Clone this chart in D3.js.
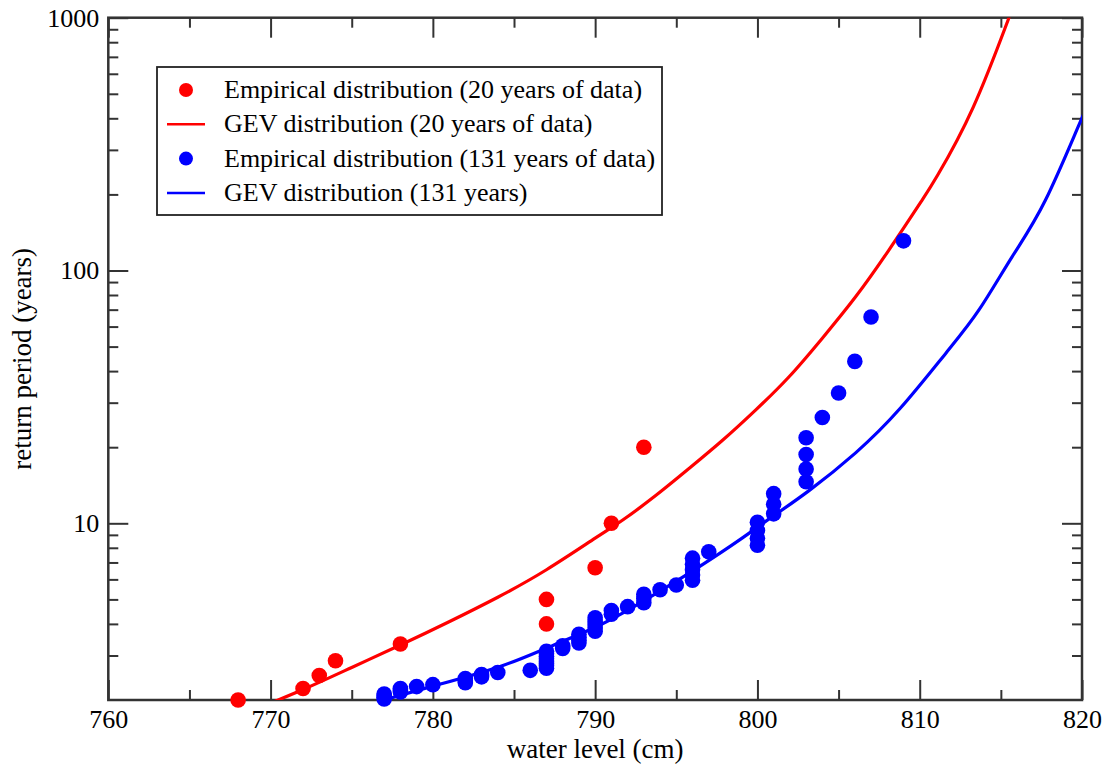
<!DOCTYPE html>
<html>
<head>
    <title></title>
    <script src="https://d3js.org/d3.v7.min.js"></script>
    <style>
        body { margin: 0; background: #fff; }
        svg text { font-family: "Liberation Serif", "DejaVu Serif", serif !important; fill: #000; }
    </style>
</head>
<body>
    <svg id="chart" width="1110" height="769"></svg>

    <script>
    // empirical return periods, 20 years of data
    let red_x = [768, 772, 773, 774, 778, 787, 787, 790, 791, 793];
    let red_y = [2.0, 2.22, 2.5, 2.86, 3.33, 4.0, 5.0, 6.67, 10.0, 20.0];

    // empirical return periods, 131 years of data
    let blue_x = [809, 807, 806, 805, 804,
                  803, 803, 803, 803,
                  801, 801, 801,
                  800, 800, 800, 800,
                  797, 796, 796, 796, 796, 796, 795, 794,
                  793, 793, 793, 792, 791, 791,
                  790, 790, 790, 790, 790,
                  789, 789, 789, 789, 788, 788,
                  787, 787, 787, 787, 787, 787, 787, 787, 786,
                  784, 783, 783, 782, 782, 782, 780, 779,
                  778, 778, 778, 777, 777, 777, 777];
    let blue_y = [131, 65.5, 43.7, 32.75, 26.2,
                  21.8, 18.7, 16.4, 14.6,
                  13.1, 11.9, 10.9,
                  10.1, 9.36, 8.73, 8.19,
                  7.71, 7.28, 6.89, 6.55, 6.24, 5.95, 5.70, 5.46,
                  5.24, 5.04, 4.85, 4.68, 4.52, 4.37,
                  4.23, 4.09, 3.97, 3.85, 3.74,
                  3.64, 3.54, 3.45, 3.36, 3.28, 3.20,
                  3.12, 3.05, 2.98, 2.91, 2.85, 2.79, 2.73, 2.67, 2.62,
                  2.57, 2.52, 2.47, 2.43, 2.38, 2.34, 2.30, 2.26,
                  2.22, 2.18, 2.15, 2.11, 2.08, 2.05, 2.02];

    // fitted GEV curves
    let gev20_x = [769, 772, 775, 778, 781, 784, 787, 790, 791.7, 793.75, 795.8, 797.85,
                   799.9, 801.95, 804, 806.05, 808.1, 810.15, 811.1, 813.3, 815.5, 816];
    let gev20_y = [1.83, 2.2, 2.69, 3.3, 4.08, 5.1, 6.55, 8.73, 10.3, 12.9, 16.5, 21.3,
                   28.1, 38.0, 54, 78.7, 120.5, 190, 238, 443, 1000, 1200];
    let gev131_x = [776.5, 780, 784.1, 787.2, 790.3, 793.3, 796.4, 798.9, 800.9, 803.2, 806.05,
                    808.8, 811.6, 813.65, 815.7, 817.75, 819.9, 820.5];
    let gev131_y = [1.96, 2.27, 2.71, 3.25, 3.96, 5.07, 6.73, 8.6, 10.6, 13.5, 19.0,
                    28.5, 47, 69.8, 113.5, 190, 388, 460];

    let x_major = [760, 770, 780, 790, 800, 810, 820];
    let x_minor = [765, 775, 785, 795, 805, 815];
    let y_major = [10, 100, 1000];
    let y_minor = [3, 4, 5, 6, 7, 8, 9, 20, 30, 40, 50, 60, 70, 80, 90,
                   200, 300, 400, 500, 600, 700, 800, 900];

    let legend_labels = ["Empirical distribution (20 years of data)",
                         "GEV distribution (20 years of data)",
                         "Empirical distribution (131 years of data)",
                         "GEV distribution (131 years)"];
    let legend_kind = ["dot", "line", "dot", "line"];
    let legend_color = ["#ff0000", "#ff0000", "#0000ff", "#0000ff"];

    let L = 108.3, R = 1082, T = 17.7, B = 700;
    let serif = "'Liberation Serif', 'DejaVu Serif', serif";

    let svg = d3.select("#chart");
    let scX = d3.scaleLinear().domain([760, 820]).range([L, R]);
    let scY = d3.scaleLog().domain([2, 1000]).range([B, T]);

    svg.append("clipPath").attr("id", "clip")
       .append("rect").attr("x", L).attr("y", T).attr("width", R - L).attr("height", B - T);

    // axes: ticks point inward on all four sides
    function styleAxis(g) {
        g.attr("font-family", serif);
        g.select(".domain").remove();
        g.selectAll(".tick line").attr("stroke", "#333").attr("stroke-width", 2);
        g.selectAll(".tick text").style("font-size", "26px").style("font-family", serif).attr("fill", "#000");
    }
    svg.append("g").attr("transform", "translate(0," + B + ")")
       .call(d3.axisBottom(scX).tickValues(x_major).tickSize(-20).tickPadding(10))
       .call(styleAxis);
    svg.append("g").attr("transform", "translate(0," + B + ")")
       .call(d3.axisBottom(scX).tickValues(x_minor).tickSize(-10).tickFormat(""))
       .call(styleAxis);
    svg.append("g").attr("transform", "translate(0," + T + ")")
       .call(d3.axisTop(scX).tickValues(x_major).tickSize(-20).tickFormat(""))
       .call(styleAxis);
    svg.append("g").attr("transform", "translate(0," + T + ")")
       .call(d3.axisTop(scX).tickValues(x_minor).tickSize(-10).tickFormat(""))
       .call(styleAxis);
    svg.append("g").attr("transform", "translate(" + L + ",0)")
       .call(d3.axisLeft(scY).tickValues(y_major).tickSize(-20).tickPadding(9).tickFormat(d3.format("d")))
       .call(styleAxis);
    svg.append("g").attr("transform", "translate(" + L + ",0)")
       .call(d3.axisLeft(scY).tickValues(y_minor).tickSize(-10).tickFormat(""))
       .call(styleAxis);
    svg.append("g").attr("transform", "translate(" + R + ",0)")
       .call(d3.axisRight(scY).tickValues(y_major).tickSize(-20).tickFormat(""))
       .call(styleAxis);
    svg.append("g").attr("transform", "translate(" + R + ",0)")
       .call(d3.axisRight(scY).tickValues(y_minor).tickSize(-10).tickFormat(""))
       .call(styleAxis);

    svg.append("rect").attr("x", L).attr("y", T).attr("width", R - L).attr("height", B - T)
       .attr("fill", "none").attr("stroke", "#333").attr("stroke-width", 2.5);

    // axis titles
    svg.append("text").attr("x", (L + R) / 2).attr("y", 758)
       .attr("text-anchor", "middle").style("font-size", "27px").text("water level (cm)");
    svg.append("text").attr("transform", "translate(31," + (T + B) / 2 + ") rotate(-90)")
       .attr("text-anchor", "middle").style("font-size", "27px").text("return period (years)");

    // GEV curves
    let line = d3.line().x(d => scX(d[0])).y(d => scY(d[1])).curve(d3.curveNatural);
    let curves = [[d3.zip(gev20_x, gev20_y), "#ff0000"], [d3.zip(gev131_x, gev131_y), "#0000ff"]];
    svg.append("g").attr("clip-path", "url(#clip)")
       .selectAll("path").data(curves).enter().append("path")
       .attr("d", d => line(d[0]))
       .attr("fill", "none").attr("stroke", d => d[1]).attr("stroke-width", 3.2);

    // empirical points
    svg.append("g").selectAll("circle").data(d3.zip(blue_x, blue_y)).enter().append("circle")
       .attr("cx", d => scX(d[0])).attr("cy", d => scY(d[1])).attr("r", 7.8).attr("fill", "#0000ff");
    svg.append("g").selectAll("circle").data(d3.zip(red_x, red_y)).enter().append("circle")
       .attr("cx", d => scX(d[0])).attr("cy", d => scY(d[1])).attr("r", 7.8).attr("fill", "#ff0000");

    // legend
    let lg = svg.append("g");
    lg.append("rect").attr("x", 157).attr("y", 67).attr("width", 505).attr("height", 148)
      .attr("fill", "#fff").attr("stroke", "#222").attr("stroke-width", 1.8);
    let rows = lg.selectAll("g").data(legend_labels).enter().append("g")
      .attr("transform", (d, i) => "translate(0," + (90 + i * 34.3) + ")");
    rows.append("text").attr("x", 224).attr("y", 8).style("font-size", "26px").text(d => d);
    rows.each(function(d, i) {
        let r = d3.select(this);
        if (legend_kind[i] == "dot")
            r.append("circle").attr("cx", 186).attr("cy", 0).attr("r", 7).attr("fill", legend_color[i]);
        else
            r.append("line").attr("x1", 167).attr("x2", 205).attr("y1", 0).attr("y2", 0)
             .attr("stroke", legend_color[i]).attr("stroke-width", 2.5);
    });
    </script>
</body></html>
